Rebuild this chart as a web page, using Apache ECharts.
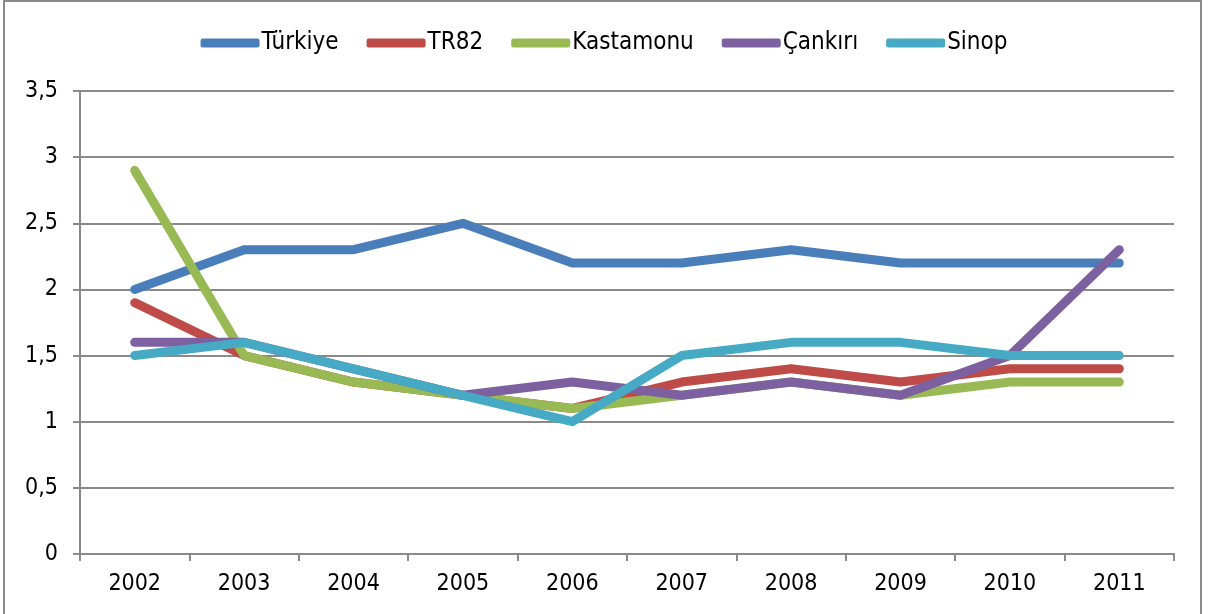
<!DOCTYPE html>
<html>
<head>
<meta charset="utf-8">
<script src="https://cdn.jsdelivr.net/npm/echarts@6/dist/echarts.min.js"></script>
<style>
  html, body { margin: 0; padding: 0; background: #fff; }
  #chart { width: 1208px; height: 614px; }
</style>
</head>
<body>
<div id="chart"></div>
<script>
// years on the x axis
const years = ['2002', '2003', '2004', '2005', '2006', '2007', '2008', '2009', '2010', '2011']

// values
const turkiye = [2.0, 2.3, 2.3, 2.5, 2.2, 2.2, 2.3, 2.2, 2.2, 2.2]
const tr82 = [1.9, 1.5, 1.3, 1.2, 1.1, 1.3, 1.4, 1.3, 1.4, 1.4]
const kastamonu = [2.9, 1.5, 1.3, 1.2, 1.1, 1.2, 1.3, 1.2, 1.3, 1.3]
const cankiri = [1.6, 1.6, 1.4, 1.2, 1.3, 1.2, 1.3, 1.2, 1.5, 2.3]
const sinop = [1.5, 1.6, 1.4, 1.2, 1.0, 1.5, 1.6, 1.6, 1.5, 1.5]

const seriesNames = ['Türkiye', 'TR82', 'Kastamonu', 'Çankırı', 'Sinop']
const seriesData = [turkiye, tr82, kastamonu, cankiri, sinop]
const colors = ['#4a7ebb', '#be4b48', '#98b954', '#7d60a0', '#46aac5']

const font = 'DejaVu Sans Condensed'
const gray = '#8a8a8a'

const chart = echarts.init(document.getElementById('chart'))

chart.setOption({
  animation: false,
  color: colors,
  textStyle: { fontFamily: font },
  graphic: [{
    type: 'rect',
    shape: { x: 4, y: 1, width: 1197, height: 640 },
    style: { fill: 'none', stroke: gray, lineWidth: 2 },
    silent: true
  }],
  legend: {
    top: 26,
    left: 'center',
    icon: 'roundRect',
    itemWidth: 59,
    itemHeight: 9,
    itemGap: 28,
    textStyle: { fontFamily: font, fontSize: 24, color: '#000', padding: [0, 0, 0, -3] },
    data: seriesNames
  },
  grid: {
    left: 80,
    right: 34,
    top: 91,
    bottom: 60,
    containLabel: false
  },
  xAxis: {
    type: 'category',
    data: years,
    boundaryGap: true,
    axisLine: { lineStyle: { color: gray, width: 2 } },
    axisTick: { show: true, length: 7, lineStyle: { color: gray, width: 2 } },
    axisLabel: { margin: 19, color: '#000', fontFamily: font, fontSize: 23 }
  },
  yAxis: {
    type: 'value',
    min: 0,
    max: 3.5,
    interval: 0.5,
    axisLine: { show: true, lineStyle: { color: gray, width: 2 } },
    axisTick: { show: true, length: 7, lineStyle: { color: gray, width: 2 } },
    splitLine: { lineStyle: { color: gray, width: 2 } },
    axisLabel: {
      margin: 22,
      color: '#000',
      fontFamily: font,
      fontSize: 23,
      formatter: v => String(v).replace('.', ',')
    }
  },
  series: seriesNames.map((name, i) => ({
    name: name,
    type: 'line',
    data: seriesData[i],
    showSymbol: false,
    symbol: 'none',
    lineStyle: { width: 9, cap: 'round', join: 'round', color: colors[i] }
  }))
})
</script>
</body>
</html>
